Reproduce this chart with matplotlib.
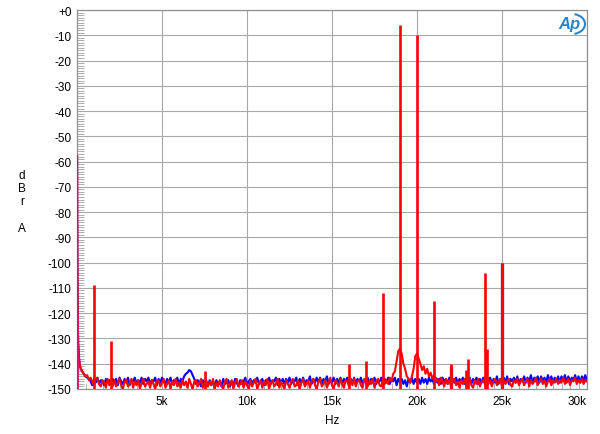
import numpy as np
import matplotlib
matplotlib.use("Agg")
import matplotlib.pyplot as plt
import matplotlib.transforms as mtrans
from matplotlib.patches import Arc

plt.rcParams['font.family'] = ['Liberation Sans', 'DejaVu Sans']

# ---------------- data ----------------
# low-frequency rise (Hz, dB)
low_freq = [5, 20, 40, 70, 110, 150]
low_red = [-58, -100, -122, -132, -137, -140]
low_blue = [-58, -100, -122, -132, -137, -140]

# noise floor, every 100 Hz from 200 Hz to 30.1 kHz (20 values = 2 kHz per row)
floor_freq = list(np.arange(200, 30101, 100))
red_floor = [
    -141.5, -143, -144, -145, -144.5, -146.5, -145.5, -147, -148.5, -146, -146, -148, -149, -146.5, -147.5, -149.5, -146, -148.5, -147, -149,
    -146.5, -149, -147.5, -146, -148.5, -150, -147, -146.5, -149, -148, -146, -149.5, -147, -148.5, -146.5, -150, -147.5, -146, -149, -148,
    -147, -149.5, -146.5, -148, -150, -147, -146.5, -149, -147.5, -146, -149.5, -148, -146.5, -150, -147, -148.5, -146, -149, -147.5, -149.5,
    -146.5, -148.5, -147, -149.5, -146, -148, -150, -147, -146.5, -149, -147.5, -146, -149.5, -148, -146.5, -149, -147, -148.5, -146, -150,
    -147.5, -149, -146.5, -148.5, -150, -147, -146, -149.5, -148, -146.5, -150, -147.5, -146, -149, -148, -146.5, -149.5, -147, -148.5, -150,
    -146.5, -149, -147.5, -146, -150, -148, -146.5, -149.5, -147, -148.5, -146, -150, -147.5, -146.5, -149, -148, -146, -149.5, -147, -148.5,
    -150, -146.5, -148, -149.5, -147, -146, -149, -148.5, -146.5, -150, -147.5, -146, -149, -148, -146.5, -149.5, -147, -146, -148.5, -150,
    -147, -146, -149, -148, -146.5, -149.5, -147.5, -145.5, -148.5, -150, -146.5, -147.5, -149, -146, -148, -149.5, -146.5, -147, -149, -146,
    -148.5, -146, -149, -147, -146.5, -148.5, -149.5, -146, -147.5, -149, -146.5, -148, -146, -149.5, -147, -146, -148.5, -149, -146.5, -148,
    -146.5, -148, -145.5, -147, -144, -143, -139, -135, -134, -136, -140, -142, -145, -146, -147.5, -145, -142, -137, -136, -138,
    -140, -142.5, -141, -144, -142, -145, -143.5, -146, -144.5, -147, -146, -148.5, -145.5, -147, -149, -146, -148, -146.5, -149, -147,
    -146, -148.5, -147, -149.5, -146.5, -148, -146, -149, -147.5, -146, -148.5, -149.5, -146.5, -148, -146, -149, -147, -146.5, -148, -145.5,
    -148, -146.5, -149, -147, -146, -148.5, -147.5, -146, -149, -146.5, -148, -147, -146, -148.5, -149, -146.5, -147.5, -146, -148.5, -147,
    -146, -148.5, -147, -146, -149, -146.5, -148, -147, -145.5, -148.5, -147, -146, -148, -146.5, -149, -147, -146, -148.5, -146.5, -147.5,
    -146, -148, -146.5, -147.5, -145.5, -148, -147, -146, -148.5, -146.5, -147, -145.5, -148, -146.5, -147.5, -146, -148, -146.5, -147, -146,
]
blue_floor = [
    -141.5, -143, -144, -145, -145.5, -146, -147, -148.5, -146, -147.5, -145.5, -148, -146.5, -147, -148.5, -146, -147.5, -146.5, -148, -146,
    -147.5, -146, -148.5, -145.5, -147, -148, -146, -147.5, -145.5, -148.5, -146.5, -147, -145.5, -148, -146.5, -147.5, -145.5, -148, -146, -147,
    -145.5, -148, -146.5, -147, -145.5, -148.5, -146, -147.5, -145.5, -147, -148, -146, -147.5, -145.5, -148, -146.5, -147, -145.5, -148.5, -146,
    -147, -145, -144, -143.5, -142.5, -143, -144.5, -146, -148, -146.5, -147.5, -149, -146.5, -148, -147, -149, -146.5, -148.5, -147, -149,
    -146.5, -148.5, -147, -149, -146, -148, -147.5, -146.5, -149, -147, -148.5, -146, -147.5, -149, -146.5, -148, -147, -145.5, -148.5, -147,
    -146, -148, -146.5, -147.5, -145.5, -148, -147, -146, -148.5, -146.5, -147.5, -145.5, -148, -146.5, -147, -145.5, -148.5, -146, -147.5, -146,
    -148, -146, -147.5, -145.5, -148, -146.5, -147, -145.5, -148.5, -146, -147.5, -145.5, -148, -146.5, -147, -145, -148, -146, -147.5, -145.5,
    -147.5, -145.5, -148, -146, -147, -145, -148, -146.5, -147.5, -145.5, -148, -146, -147.5, -145.5, -148, -146, -147, -145.5, -148, -146,
    -147.5, -145.5, -148, -146, -147, -145.5, -148, -146.5, -147, -145.5, -148, -146, -147.5, -145.5, -148, -146.5, -147, -145.5, -148, -146,
    -147.5, -145.5, -148, -146, -147, -145.5, -148.5, -146, -147.5, -146, -148, -146.5, -149, -146, -147.5, -145.5, -148, -146, -147.5, -146,
    -148, -145.5, -147.5, -146, -148, -145.5, -147, -146, -148, -145.5, -147.5, -146, -148, -145.5, -147, -146, -148, -145.5, -147.5, -146,
    -147.5, -145.5, -148, -146, -147, -145.5, -148, -146, -147.5, -145.5, -148, -146, -147, -145.5, -148, -146, -147.5, -145.5, -148, -146,
    -147, -145.5, -148, -146, -147.5, -145, -148, -146, -147, -145.5, -147.5, -145, -148, -146, -147, -145.5, -147.5, -145, -148, -146,
    -147, -145, -147.5, -145.5, -147, -144.5, -147.5, -145.5, -147, -145, -147.5, -145, -147, -145.5, -147.5, -144.5, -147, -145, -147.5, -145.5,
    -147, -145, -147.5, -145, -146.5, -144.5, -147.5, -145, -147, -145.5, -146.5, -144.5, -147, -145, -147.5, -145, -146.5, -144.5, -147, -145,
]

# discrete spectral lines (Hz, dB)
red_peak_freq = [1000, 2000, 7500, 16000, 17000, 18000, 19000, 20000, 21000,
                 22000, 22900, 23000, 24000, 24100, 25000]
red_peak_level = [-109, -131, -143, -140, -139, -112, -6, -10, -115,
                  -140, -142.5, -138, -104, -134, -100]
blue_peak_freq = [22000, 25000]
blue_peak_level = [-141, -100]

# axes
x_ticks = [5000, 10000, 15000, 20000, 25000, 30000]
x_ticklabels = ['5k', '10k', '15k', '20k', '25k', '30k']
y_ticks = list(range(0, -151, -10))
y_ticklabels = ['+0'] + [str(v) for v in y_ticks[1:]]

# ---------------- build series ----------------
red_f = np.array(low_freq + floor_freq, dtype=float)
red_v = np.array(low_red + red_floor, dtype=float)
blue_f = np.array(low_freq + floor_freq, dtype=float)
blue_v = np.array(low_blue + blue_floor, dtype=float)

# ---------------- plot ----------------
fig = plt.figure(figsize=(6.0, 4.35), dpi=100)
ax = fig.add_axes([77/600, 1-390/435, 510/600, 379/435])

ax.plot(blue_f, blue_v, color='#0000ff', lw=1.5, zorder=3)
ax.vlines(blue_peak_freq, -150, blue_peak_level, color='#7a3aa0', lw=2.4, zorder=3)
ax.plot(red_f, red_v, color='#ff0000', lw=1.5, zorder=4)
ax.vlines(red_peak_freq, -150, red_peak_level, color='#ff0000', lw=1.9, zorder=4)
ax.vlines([0, 60], -150, [-58, -120], color='#e0106a', lw=1.3, zorder=5)

ax.set_xlim(0, 30000)
ax.set_ylim(-150, 0)
ax.set_xticks(x_ticks)
ax.set_xticklabels(x_ticklabels)
ax.set_yticks(y_ticks)
ax.set_yticklabels(y_ticklabels)
ax.set_xticks(np.arange(0, 30001, 500), minor=True)
ax.set_yticks(np.arange(-150, 1, 1), minor=True)
ax.tick_params(axis='both', which='major', length=0, labelsize=8.5, colors='black', pad=4)
ax.tick_params(axis='y', which='minor', direction='in', length=5, color='#a0a0a0', width=0.6)
ax.tick_params(axis='x', which='minor', direction='in', length=4, color='#a0a0a0', width=0.6)
ax.grid(True, which='major', color='#a8a8a8', lw=0.8)
for s in ax.spines.values():
    s.set_color('#909090')
    s.set_linewidth(0.9)

labs = ax.get_xticklabels()
labs[-1].set_transform(labs[-1].get_transform() + mtrans.ScaledTranslation(-10/100, 0, fig.dpi_scale_trans))

fig.text(332/600, 1-421/435, 'Hz', ha='center', va='center', fontsize=8.5)
for txt, yy in [('d', 176), ('B', 189), ('r', 202), ('A', 229)]:
    fig.text(22/600, 1-yy/435, txt, ha='center', va='center', fontsize=8.5)

# AP logo
fig.text(569/600, 1-25/435, 'Ap', ha='center', va='center', fontsize=12,
         style='italic', fontweight='bold', color='#2a86c8')
fig.add_artist(Arc((572/600, 1-25/435), 26/600, 20/435, theta1=-80, theta2=80,
                   transform=fig.transFigure, color='#2a86c8', lw=1.5))

fig.savefig('out.png', dpi=100)
